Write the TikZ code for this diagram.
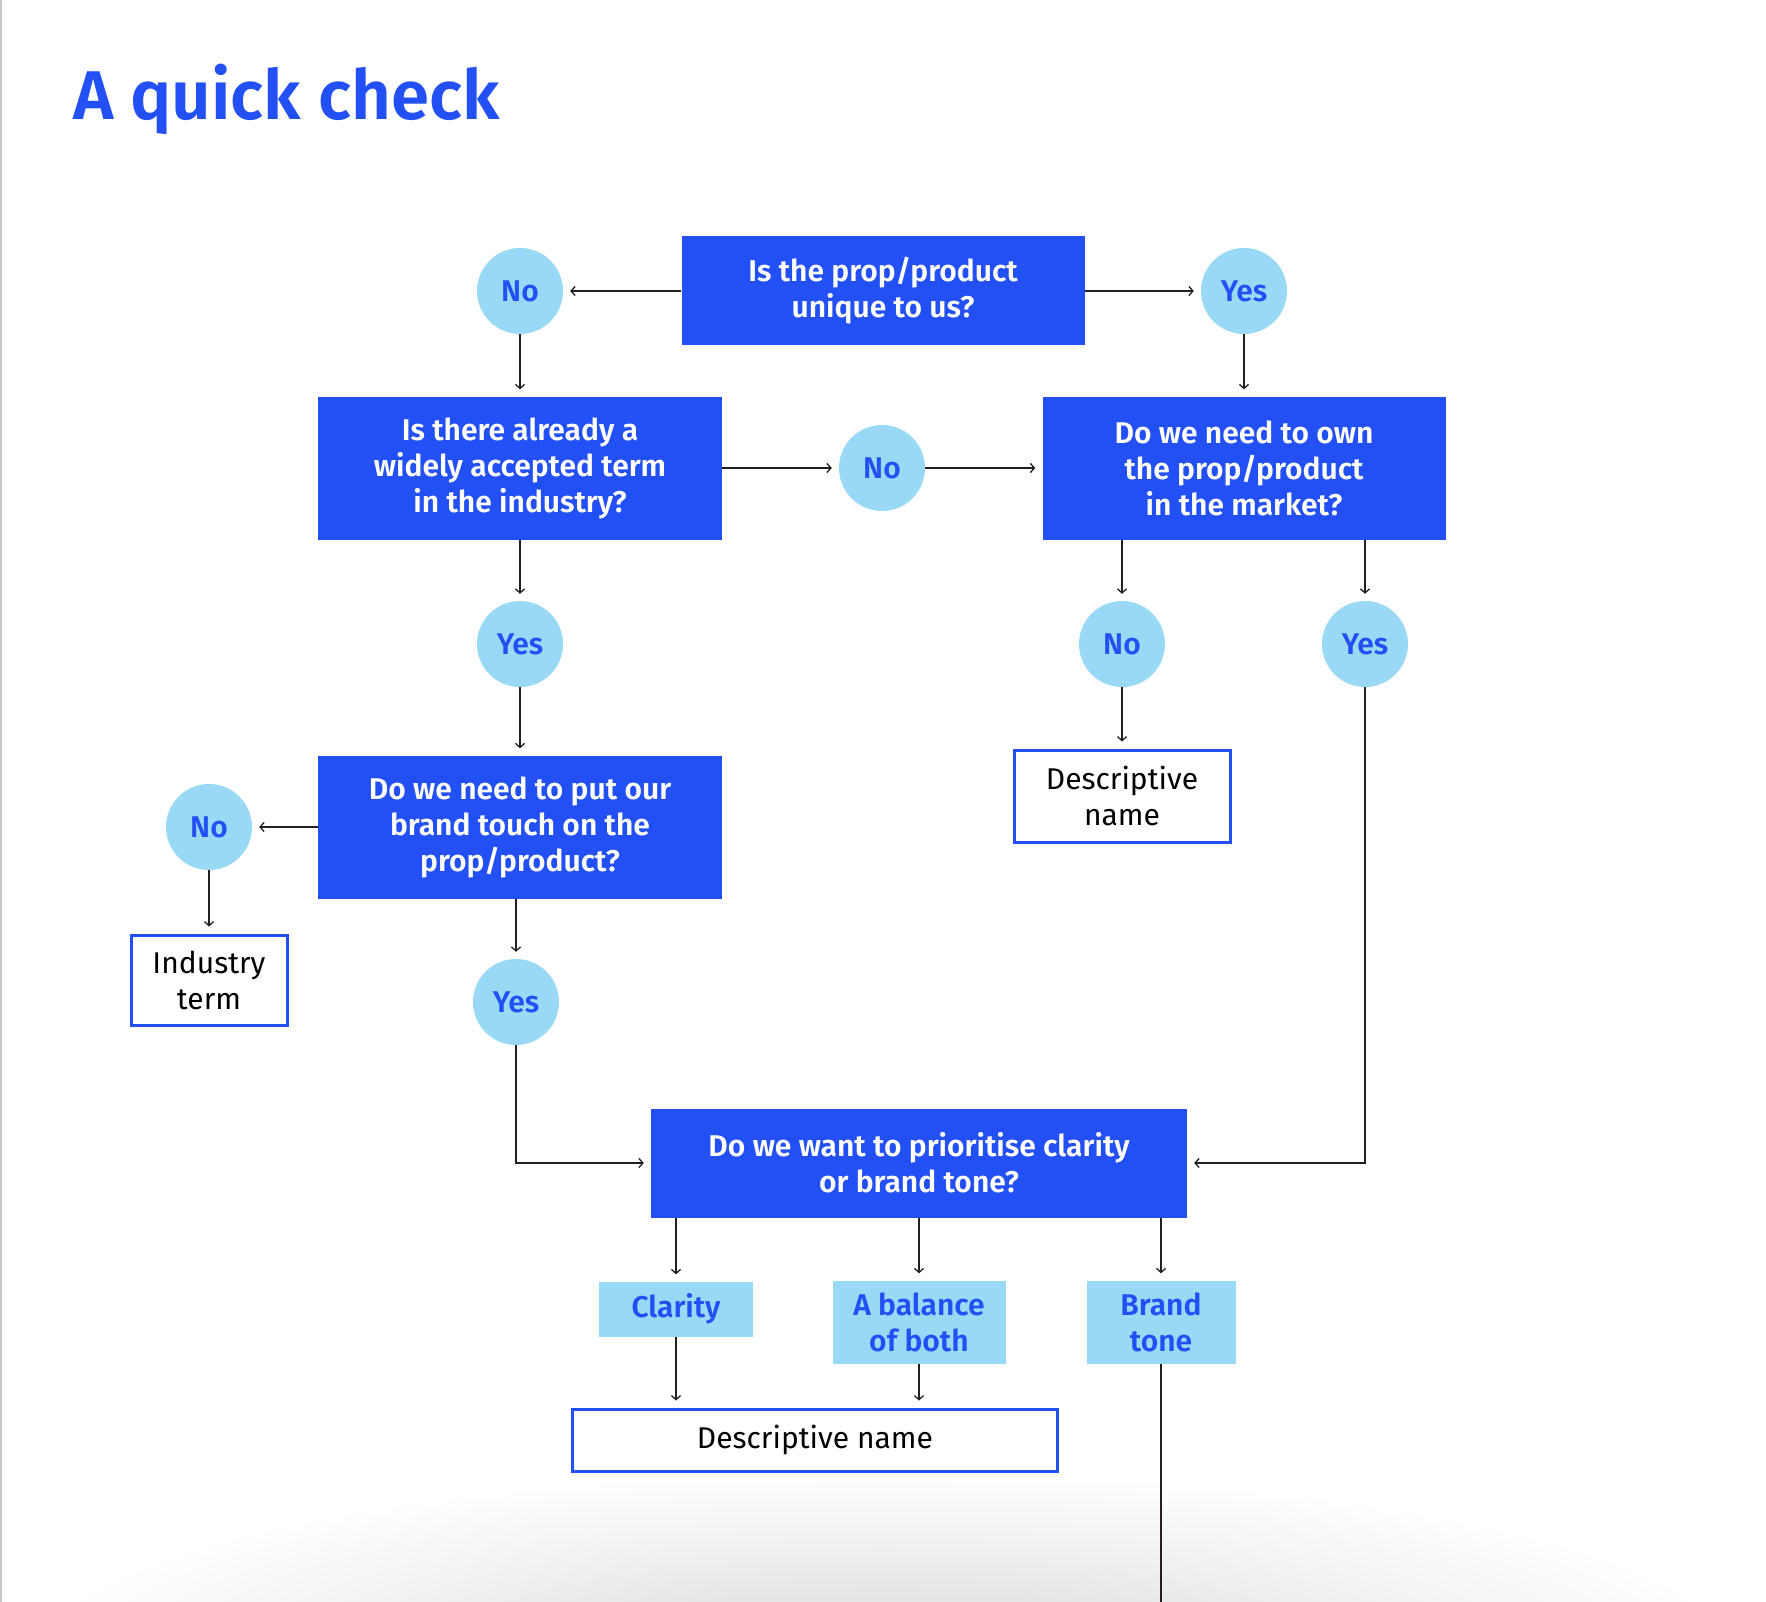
\documentclass[tikz,border=0pt]{standalone}
\usepackage{fontspec}
\setmainfont{Fira Sans}[BoldFont={Fira Sans SemiBold}]
\usetikzlibrary{arrows.meta}

\definecolor{qblue}{RGB}{35,80,245}
\definecolor{ansblue}{RGB}{154,217,245}
\definecolor{wire}{RGB}{35,31,32}
\newcommand{\boxfont}{\fontsize{30}{36}\selectfont}

\begin{document}
\begin{tikzpicture}[x=1pt,y=-1pt,
    question/.style={fill=qblue, text=white, font=\boxfont\bfseries, align=center, inner sep=0pt},
    answer/.style={circle, fill=ansblue, text=qblue, font=\boxfont\bfseries, minimum size=86pt, inner sep=0pt},
    choice/.style={fill=ansblue, text=qblue, font=\boxfont\bfseries, align=center, inner sep=0pt},
    result/.style={draw=qblue, line width=3pt, fill=white, font=\boxfont, align=center, inner sep=0pt},
    line/.style={draw=wire, line width=1.3pt},
    link/.style={line, -{Straight Barb[length=4pt,width=9pt]}, shorten >=7pt}]

    \useasboundingbox (0,0) rectangle (1766,1602);
    \fill[white] (0,0) rectangle (1766,1602);

    % soft shadow along the lower edge
    \begin{scope}
        \clip (0,0) rectangle (1766,1602);
        \shade[inner color=black!15, outer color=white] (885,1660) ellipse (860 and 190);
    \end{scope}
    \draw[black!22, line width=2pt] (1,0) -- (1,1602);

    \node[anchor=base west, text=qblue, font=\fontsize{69}{82}\selectfont\bfseries, inner sep=0pt] (title) at (73,120) {A quick check};

    % questions
    \node[question, minimum width=403pt, minimum height=109pt] (q1) at (883,291) {Is the prop/product\\unique to us?};
    \node[question, minimum width=404pt, minimum height=143pt] (q2) at (520,468) {Is there already a\\widely accepted term\\in the industry?};
    \node[question, minimum width=403pt, minimum height=143pt] (q3) at (1244,468) {Do we need to own\\the prop/product\\in the market?};
    \node[question, minimum width=404pt, minimum height=143pt] (q4) at (520,827) {Do we need to put our\\brand touch on the\\prop/product?};
    \node[question, minimum width=536pt, minimum height=109pt] (q5) at (919,1163) {Do we want to prioritise clarity\\or brand tone?};

    % yes / no
    \node[answer] (no1) at (520,291) {No};
    \node[answer] (yes1) at (1244,291) {Yes};
    \node[answer] (no2) at (882,468) {No};
    \node[answer] (yes2) at (520,644) {Yes};
    \node[answer] (no3) at (1122,644) {No};
    \node[answer] (yes3) at (1365,644) {Yes};
    \node[answer] (no4) at (209,827) {No};
    \node[answer] (yes4) at (516,1002) {Yes};

    \node[choice, minimum width=154pt, minimum height=55pt] (clar) at (676,1309) {Clarity};
    \node[choice, minimum width=173pt, minimum height=83pt] (bal) at (919,1322) {A balance\\of both};
    \node[choice, minimum width=149pt, minimum height=83pt] (tone) at (1161,1322) {Brand\\tone};

    % outcomes
    \node[result, minimum width=156pt, minimum height=90pt] (ind) at (209,980) {Industry\\term};
    \node[result, minimum width=216pt, minimum height=92pt] (desc1) at (1122,796) {Descriptive\\name};
    \node[result, minimum width=485pt, minimum height=62pt] (desc2) at (815,1440) {Descriptive name};
    \coordinate (toneend) at (1161,1602);

    \draw[link] (q1) -- (no1);
    \draw[link] (q1) -- (yes1);
    \draw[link] (no1) -- (q2);
    \draw[link] (yes1) -- (q3);
    \draw[link] (q2) -- (no2);
    \draw[link] (no2) -- (q3);
    \draw[link] (q2) -- (yes2);
    \draw[link] (yes2) -- (q4);
    \draw[link] (q3.south -| no3) -- (no3);
    \draw[link] (q3.south -| yes3) -- (yes3);
    \draw[link] (no3) -- (desc1);
    \draw[link] (q4) -- (no4);
    \draw[link] (no4) -- (ind);
    \draw[link] (q4.south -| yes4) -- (yes4);
    \draw[link] (yes4) |- (q5);
    \draw[link] (yes3) |- (q5);
    \draw[link] (q5.south -| clar) -- (clar);
    \draw[link] (q5.south -| bal) -- (bal);
    \draw[link] (q5.south -| tone) -- (tone);
    \draw[link] (clar) -- (clar |- desc2.north);
    \draw[link] (bal) -- (bal |- desc2.north);
    \draw[line] (tone) -- (toneend);
\end{tikzpicture}
\end{document}
